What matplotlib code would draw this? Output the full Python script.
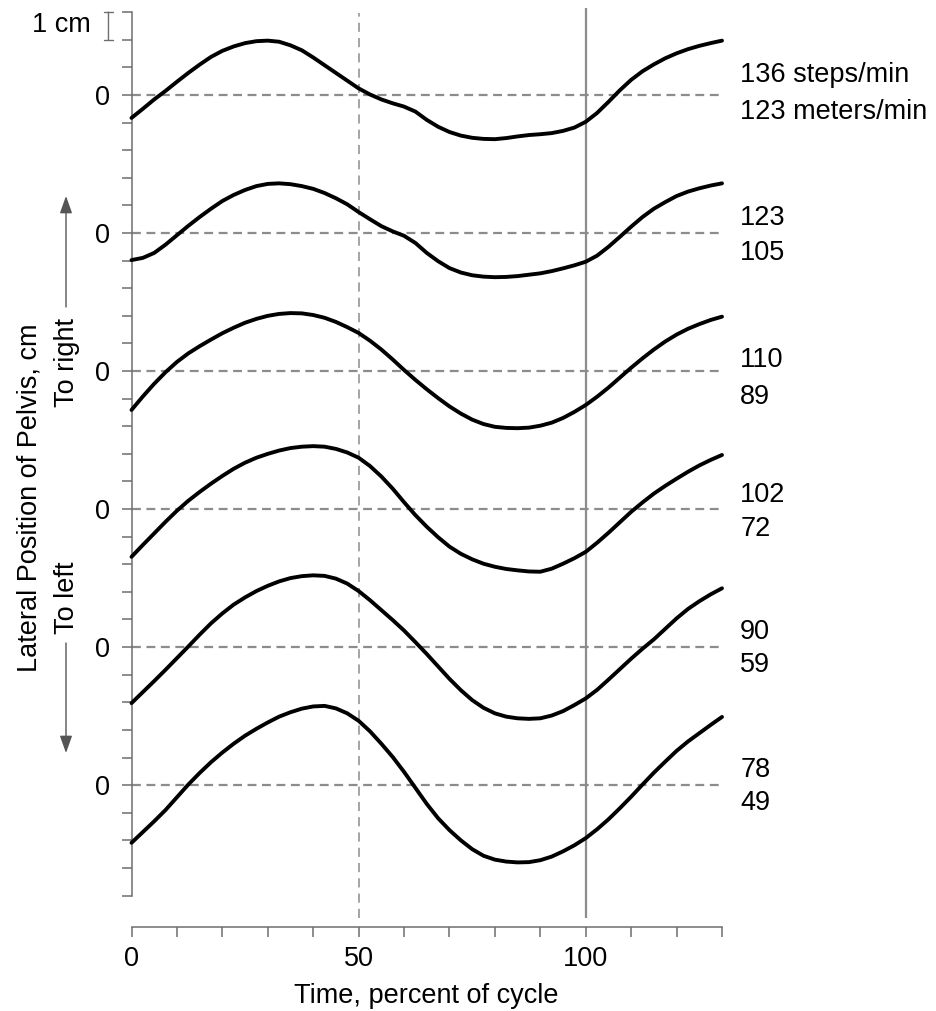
import numpy as np
import matplotlib
matplotlib.use("Agg")
import matplotlib.pyplot as plt

plt.rcParams['font.family'] = ['Liberation Sans', 'DejaVu Sans']

# ---------- Data (lateral pelvis position, cm) ----------
pct = [i * 2.5 for i in range(53)]  # time, percent of cycle: 0 .. 130

pelvis_136 = [-0.83, -0.50, -0.16, 0.15, 0.48, 0.80, 1.10, 1.38, 1.60, 1.76, 1.88, 1.95, 1.97,
              1.93, 1.80, 1.62, 1.36, 1.08, 0.80, 0.52, 0.24, 0.02, -0.16, -0.30, -0.42, -0.60,
              -0.90, -1.15, -1.34, -1.47, -1.55, -1.59, -1.60, -1.56, -1.50, -1.45, -1.42, -1.38,
              -1.30, -1.18, -0.97, -0.65, -0.25, 0.17, 0.55, 0.86, 1.11, 1.33, 1.51, 1.66, 1.78,
              1.88, 1.97]
pelvis_123 = [-0.98, -0.90, -0.72, -0.42, -0.08, 0.26, 0.58, 0.88, 1.16, 1.38, 1.56, 1.70, 1.78,
              1.80, 1.77, 1.70, 1.60, 1.45, 1.26, 1.04, 0.76, 0.50, 0.25, 0.06, -0.10, -0.36,
              -0.72, -1.02, -1.27, -1.43, -1.53, -1.58, -1.60, -1.59, -1.56, -1.51, -1.46, -1.38,
              -1.28, -1.17, -1.04, -0.82, -0.50, -0.14, 0.23, 0.58, 0.88, 1.12, 1.34, 1.50, 1.62,
              1.72, 1.80]
pelvis_110 = [-1.41, -0.92, -0.46, -0.04, 0.33, 0.64, 0.90, 1.14, 1.37, 1.57, 1.75, 1.89, 2.00,
              2.07, 2.10, 2.09, 2.03, 1.93, 1.78, 1.59, 1.38, 1.10, 0.78, 0.42, 0.04, -0.32,
              -0.66, -0.98, -1.28, -1.54, -1.76, -1.92, -2.02, -2.06, -2.07, -2.05, -1.98, -1.87,
              -1.70, -1.48, -1.23, -0.93, -0.60, -0.24, 0.12, 0.46, 0.78, 1.07, 1.32, 1.53, 1.70,
              1.85, 1.97]
pelvis_102 = [-1.73, -1.30, -0.88, -0.46, -0.06, 0.30, 0.62, 0.92, 1.20, 1.46, 1.68, 1.86, 2.00,
              2.12, 2.21, 2.26, 2.28, 2.26, 2.18, 2.05, 1.86, 1.56, 1.18, 0.74, 0.25, -0.22,
              -0.64, -1.02, -1.36, -1.62, -1.82, -1.98, -2.09, -2.17, -2.22, -2.26, -2.27, -2.16,
              -1.98, -1.78, -1.55, -1.22, -0.86, -0.48, -0.10, 0.24, 0.56, 0.84, 1.10, 1.35, 1.58,
              1.78, 1.96]
pelvis_90 = [-2.03, -1.63, -1.23, -0.82, -0.40, 0.02, 0.45, 0.86, 1.22, 1.54, 1.80, 2.03, 2.22,
             2.38, 2.50, 2.57, 2.60, 2.58, 2.48, 2.30, 2.03, 1.70, 1.34, 0.98, 0.60, 0.18,
             -0.25, -0.70, -1.15, -1.56, -1.92, -2.20, -2.40, -2.52, -2.58, -2.60, -2.58, -2.48,
             -2.32, -2.10, -1.86, -1.55, -1.18, -0.80, -0.42, -0.06, 0.28, 0.66, 1.04, 1.38, 1.66,
             1.91, 2.13]
pelvis_78 = [-2.09, -1.70, -1.31, -0.90, -0.44, 0.02, 0.44, 0.83, 1.18, 1.50, 1.79, 2.04, 2.27,
             2.48, 2.64, 2.77, 2.85, 2.87, 2.78, 2.60, 2.33, 1.95, 1.50, 1.02, 0.48, -0.10,
             -0.68, -1.20, -1.63, -2.00, -2.32, -2.56, -2.70, -2.77, -2.80, -2.79, -2.72, -2.59,
             -2.40, -2.18, -1.92, -1.60, -1.24, -0.84, -0.42, 0.02, 0.45, 0.85, 1.24, 1.58, 1.88,
             2.18, 2.47]

traces = [pelvis_136, pelvis_123, pelvis_110, pelvis_102, pelvis_90, pelvis_78]
cadence = ['136 steps/min', '123', '110', '102', '90', '78']
speed = ['123 meters/min', '105', '89', '72', '59', '49']

# layout: each trace sits 5 cm below the previous one
baseline = [0, -5, -10, -15, -20, -25]
upper_off = [0.72, 0.54, 0.40, 0.50, 0.54, 0.54]
lower_off = [-0.62, -0.72, -0.94, -0.72, -0.65, -0.65]

GRAY = '#6e6e6e'
FS = 19.5

W, H = 937, 1011
fig = plt.figure(figsize=(W / 100, H / 100), dpi=100)
ax = fig.add_axes([131.5 / W, 84 / H, 590.5 / W, 914.8 / H])
ax.set_xlim(0, 130)
ax.set_ylim(-30.14, 3)

for side in ['top', 'right']:
    ax.spines[side].set_visible(False)
for side in ['left', 'bottom']:
    ax.spines[side].set_color(GRAY)
    ax.spines[side].set_linewidth(1.1)
ax.spines['left'].set_bounds(-29, 3)
ax.spines['bottom'].set_bounds(0, 130)

ax.set_yticks(baseline)
ax.set_yticklabels(['0'] * len(baseline))
ax.set_yticks(range(-29, 4), minor=True)
ax.set_xticks([0, 50, 100])
ax.set_xticks(range(0, 131, 10), minor=True)
ax.tick_params(axis='both', which='both', direction='out', length=7.5, width=1.1,
               color=GRAY, labelsize=FS, pad=8)
ax.tick_params(axis='x', which='major', pad=6)

# reference lines
for b in baseline:
    ax.axhline(b, color='#8c8c8c', lw=1.6, linestyle=(0, (4, 2.5)), zorder=1)
ax.vlines(50, -29.8, 2.97, color='#8c8c8c', lw=1.1, linestyle=(0, (6, 4)), zorder=1, clip_on=False)
ax.vlines(100, -29.8, 3.14, color='#8c8c8c', lw=1.6, zorder=1, clip_on=False)

# traces and speed labels
for vals, b, cad, spd, uo, lo in zip(traces, baseline, cadence, speed, upper_off, lower_off):
    ax.plot(pct, np.array(vals) + b, color='black', lw=2.8,
            solid_joinstyle='round', solid_capstyle='round', zorder=3, clip_on=False)
    ax.text(134, b + uo, cad, ha='left', va='center', fontsize=FS, clip_on=False)
    ax.text(134, b + lo, spd, ha='left', va='center', fontsize=FS, clip_on=False)

ax.set_xlabel('Time, percent of cycle', fontsize=FS, labelpad=8)

# 1 cm scale marker
ax.annotate('', xy=(-5.07, 3), xytext=(-5.07, 2), xycoords='data',
            arrowprops=dict(arrowstyle='|-|,widthA=0.3,widthB=0.3', color=GRAY, lw=1.0,
                            shrinkA=0, shrinkB=0), annotation_clip=False)
fig.text(61.5 / W, 1 - 25 / H, '1 cm', ha='center', va='center', fontsize=FS)

# y label with direction arrows
fig.text(30 / W, 1 - 498 / H, 'Lateral Position of Pelvis, cm', rotation=90,
         ha='center', va='center', fontsize=FS)
fig.text(67 / W, 1 - 362 / H, 'To right', rotation=90, ha='center', va='center', fontsize=FS)
fig.text(67 / W, 1 - 598 / H, 'To left', rotation=90, ha='center', va='center', fontsize=FS)
arrow = dict(arrowstyle='-|>,head_length=0.7,head_width=0.25', color='#555555', lw=1.0,
             shrinkA=0, shrinkB=0, mutation_scale=15)
ax.annotate('', xy=(66, H - 196), xytext=(66, H - 307), xycoords='figure pixels',
            textcoords='figure pixels', arrowprops=arrow)
ax.annotate('', xy=(66, H - 753), xytext=(66, H - 643), xycoords='figure pixels',
            textcoords='figure pixels', arrowprops=arrow)

fig.savefig('out.png', dpi=100)
